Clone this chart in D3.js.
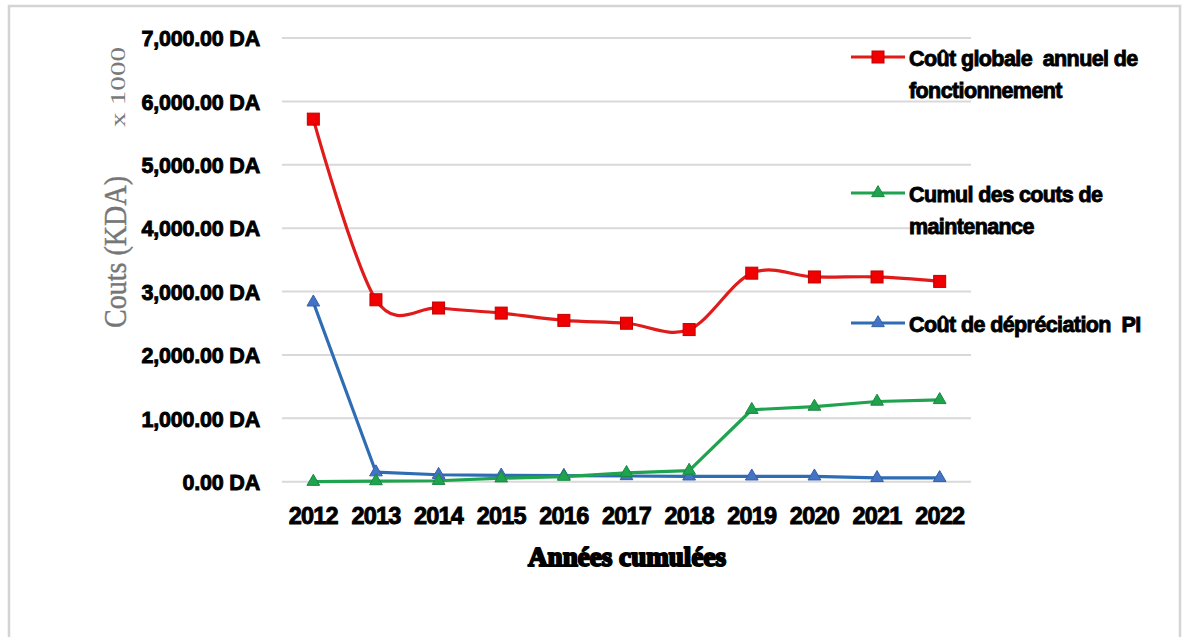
<!DOCTYPE html>
<html>
<head>
<meta charset="utf-8">
<script src="https://cdn.jsdelivr.net/npm/d3@7"></script>
<style>
  html, body { margin: 0; padding: 0; background: #fff; }
  svg { display: block; }
  text { white-space: pre; }
</style>
</head>
<body>
<svg id="chart" width="1188" height="637"></svg>
<script>
// Years on the horizontal axis
const years = ["2012", "2013", "2014", "2015", "2016", "2017", "2018", "2019", "2020", "2021", "2022"];

// Costs in thousands of DA
const coutGlobal = [5720, 2870, 2740, 2660, 2545, 2500, 2400, 3290, 3230, 3230, 3160];
const cumulMaintenance = [0, 10, 15, 55, 80, 140, 175, 1135, 1185, 1265, 1290];
const coutDepreciation = [2830, 150, 110, 100, 95, 90, 85, 85, 85, 60, 60];

// Y ticks
const yTicks = [0, 1000, 2000, 3000, 4000, 5000, 6000, 7000];

const series = [
  { name: ["Coût globale  annuel de", "fonctionnement"], values: coutGlobal,
    line: "#e01b1b", fill: "#f00000", stroke: "#c00000", marker: "square", smooth: true, legendY: 57 },
  { name: ["Cumul des couts de", "maintenance"], values: cumulMaintenance,
    line: "#1fa34f", fill: "#1fa34f", stroke: "#17893f", marker: "triangle", smooth: false, legendY: 193 },
  { name: ["Coût de dépréciation  PI"], values: coutDepreciation,
    line: "#2e6db4", fill: "#4472c4", stroke: "#3560a8", marker: "triangle", smooth: false, legendY: 323 }
];

const svg = d3.select("#chart");

// Outer frame
svg.append("rect")
  .attr("x", 9).attr("y", 6).attr("width", 1171).attr("height", 640)
  .attr("fill", "#fff").attr("stroke", "#d4d4d4").attr("stroke-width", 2.5);

const plot = { left: 282, right: 971, top: 38, bottom: 481.7 };

const x = d3.scaleBand().domain(years).range([plot.left, plot.right]);
const y = d3.scaleLinear().domain([0, 7000]).range([plot.bottom, plot.top]);
const cx = d => x(d) + x.bandwidth() / 2;

// Horizontal gridlines
svg.append("g").selectAll("line").data(yTicks).join("line")
  .attr("x1", plot.left).attr("x2", plot.right)
  .attr("y1", d => y(d)).attr("y2", d => y(d))
  .attr("stroke", "#d9d9d9").attr("stroke-width", 2);

// Y axis labels
const fmt = d3.format(",.2f");
const yAxis = d3.axisLeft(y).tickValues(yTicks).tickSize(0).tickPadding(0)
  .tickFormat(d => fmt(d) + " DA");
svg.append("g")
  .attr("transform", `translate(260,0)`)
  .call(yAxis)
  .call(g => g.select(".domain").remove())
  .call(g => g.selectAll("text")
    .attr("font-family", "Liberation Sans, Arial, sans-serif")
    .attr("font-weight", "bold")
    .attr("font-size", "21.5px")
    .attr("letter-spacing", "-0.2px")
    .attr("fill", "#000")
    .attr("stroke", "#000").attr("stroke-width", 0.9)
    .attr("dy", "0.36em"));

// X axis labels
const xAxis = d3.axisBottom(x).tickSize(0).tickPadding(0);
svg.append("g")
  .attr("transform", `translate(0,${plot.bottom})`)
  .call(xAxis)
  .call(g => g.select(".domain").remove())
  .call(g => g.selectAll("text")
    .attr("font-family", "Liberation Sans, Arial, sans-serif")
    .attr("font-weight", "bold")
    .attr("font-size", "23.5px")
    .attr("letter-spacing", "-0.8px")
    .attr("fill", "#000")
    .attr("stroke", "#000").attr("stroke-width", 0.9)
    .attr("y", 42).attr("dy", 0));

// Axis titles
svg.append("text")
  .attr("transform", "translate(126,252) rotate(-90)")
  .attr("text-anchor", "middle")
  .attr("font-family", "Liberation Serif, Times New Roman, serif")
  .attr("font-size", "31px")
  .attr("fill", "#767676")
  .attr("stroke", "#767676").attr("stroke-width", 0.4)
  .attr("textLength", 152).attr("lengthAdjust", "spacingAndGlyphs")
  .text("Couts (KDA)");

svg.append("text")
  .attr("transform", "translate(125,87) rotate(-90)")
  .attr("text-anchor", "middle")
  .attr("font-family", "Liberation Serif, Times New Roman, serif")
  .attr("font-size", "22px")
  .attr("fill", "#7a7a7a")
  .attr("textLength", 80).attr("lengthAdjust", "spacingAndGlyphs")
  .text("x 1000");

svg.append("text")
  .attr("x", 627).attr("y", 566)
  .attr("text-anchor", "middle")
  .attr("font-family", "Liberation Serif, Times New Roman, serif")
  .attr("font-weight", "bold")
  .attr("font-size", "27px")
  .attr("fill", "#000")
  .attr("stroke", "#000").attr("stroke-width", 2)
  .attr("stroke-linejoin", "round")
  .attr("textLength", 198).attr("lengthAdjust", "spacingAndGlyphs")
  .text("Années cumulées");

// Lines and markers
const triangle = d3.symbol().type(d3.symbolTriangle).size(70);

function drawMarker(g, s, px, py) {
  if (s.marker === "square") {
    g.append("rect")
      .attr("x", px - 6).attr("y", py - 6).attr("width", 12).attr("height", 12)
      .attr("fill", s.fill).attr("stroke", s.stroke).attr("stroke-width", 1);
  } else {
    g.append("path")
      .attr("d", triangle())
      .attr("transform", `translate(${px},${py})`)
      .attr("fill", s.fill).attr("stroke", s.stroke).attr("stroke-width", 1);
  }
}

// Draw in reverse order so the operating cost sits on top
[...series].reverse().forEach(s => {
  const line = d3.line()
    .x((d, i) => cx(years[i]))
    .y(d => y(d))
    .curve(s.smooth ? d3.curveCardinal.tension(0) : d3.curveLinear);
  const g = svg.append("g");
  g.append("path")
    .attr("d", line(s.values))
    .attr("fill", "none")
    .attr("stroke", s.line)
    .attr("stroke-width", 3.2)
    .attr("stroke-linejoin", "round");
  s.values.forEach((v, i) => drawMarker(g, s, cx(years[i]), y(v)));
});

// Legend
series.forEach(s => {
  const g = svg.append("g");
  g.append("line")
    .attr("x1", 851).attr("x2", 905)
    .attr("y1", s.legendY).attr("y2", s.legendY)
    .attr("stroke", s.line).attr("stroke-width", 3.2);
  drawMarker(g, s, 878, s.legendY);
  s.name.forEach((t, i) => {
    g.append("text")
      .attr("x", 909).attr("y", s.legendY + 9 + i * 32)
      .attr("font-family", "Liberation Sans, Arial, sans-serif")
      .attr("font-weight", "bold")
      .attr("font-size", "21.5px")
      .attr("letter-spacing", "-0.6px")
      .attr("fill", "#000")
      .attr("stroke", "#000").attr("stroke-width", 0.9)
      .text(t);
  });
});
</script>
</body>
</html>
